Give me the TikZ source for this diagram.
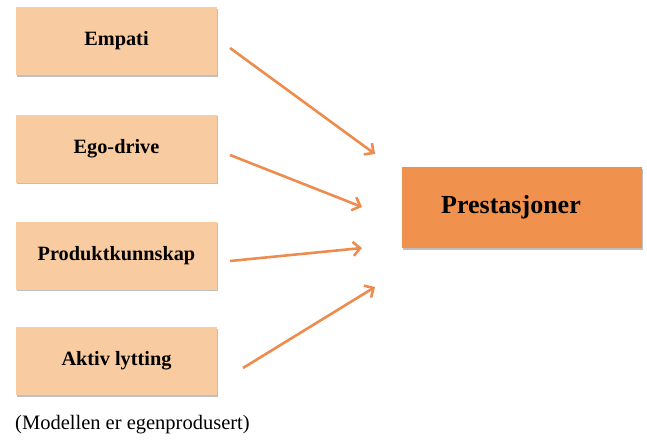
\documentclass[tikz,border=0pt]{standalone}
\usepackage{fontspec}
\setmainfont{Liberation Serif}
\usetikzlibrary{arrows.meta,shadows}
\definecolor{peach}{HTML}{F9CBA0}
\definecolor{darkorange}{HTML}{F0914D}
\definecolor{arrowor}{HTML}{EE8C4F}
\tikzset{
  x=1pt,y=-1pt,
  factor/.style={fill=peach,minimum width=201pt,minimum height=68pt,inner sep=0pt,
    font=\fontsize{20.3}{23}\selectfont\bfseries,
    drop shadow={shadow xshift=1.2pt,shadow yshift=-1.8pt,fill=black,opacity=0.25}},
  result/.style={fill=darkorange,minimum width=240pt,minimum height=81pt,inner sep=0pt,
    font=\fontsize{26}{29}\selectfont\bfseries,
    drop shadow={shadow xshift=1.2pt,shadow yshift=-1.8pt,fill=black,opacity=0.25}},
  link/.style={draw=arrowor,line width=2.6pt,-{Straight Barb[length=7pt,width=14pt]}},
}
\begin{document}
\begin{tikzpicture}
\useasboundingbox (0,0) rectangle (647,439);
\node[factor] (f1) at (116.5,41) {Empati};
\node[factor] (f2) at (116.5,148.5) {Ego-drive};
\node[factor] (f3) at (116.5,255.5) {Produktkunnskap};
\node[factor] (f4) at (116.5,361) {Aktiv lytting};
\node[result] (res) at (522,207.5) {\raisebox{4pt}{Prestasjoner}\hspace*{22pt}};
\node[anchor=west,inner sep=0pt,font=\fontsize{20.5}{23}\selectfont] (cap) at (15,425) {(Modellen er egenprodusert)};
\coordinate (s1) at (230,48);
\coordinate (e1) at (375,154);
\coordinate (s2) at (230,155);
\coordinate (e2) at (362,207);
\coordinate (s3) at (230,261);
\coordinate (e3) at (362,248);
\coordinate (s4) at (243,368);
\coordinate (e4) at (375,287);
\draw[link] (s1) -- (e1);
\draw[link] (s2) -- (e2);
\draw[link] (s3) -- (e3);
\draw[link] (s4) -- (e4);
\end{tikzpicture}
\end{document}
